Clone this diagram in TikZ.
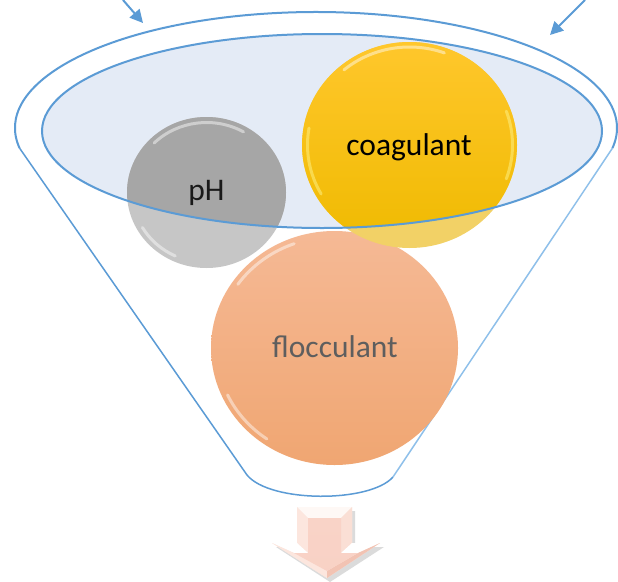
\documentclass[tikz,border=0pt]{standalone}
\usepackage{fontspec}
\setmainfont{Carlito}
\usetikzlibrary{arrows.meta}
\definecolor{rimblue}{HTML}{5B9BD5}
\definecolor{rimlight}{HTML}{8FC0EA}
\definecolor{bowl}{HTML}{E4EBF6}
\definecolor{phdark}{HTML}{A6A6A6}
\definecolor{phlight}{HTML}{C6C6C6}
\definecolor{coagtop}{HTML}{FFC72C}
\definecolor{coagbot}{HTML}{EFBA00}
\definecolor{coaglight}{HTML}{F2D166}
\definecolor{floctop}{HTML}{F5B995}
\definecolor{flocbot}{HTML}{F0A672}
\definecolor{floctext}{HTML}{5E5E5E}
\definecolor{arrface}{HTML}{F9D3C7}
\definecolor{arrlight}{HTML}{FCE6DE}
\definecolor{arrdark}{HTML}{F2C3B3}
\begin{document}
\begin{tikzpicture}[x=1pt,y=-1pt,
  rim/.style={draw=rimblue, line width=2pt},
  side/.style={draw=rimblue, line width=1.5pt},
  sidelight/.style={draw=rimlight, line width=1.5pt},
  inarrow/.style={draw=rimblue, line width=2pt, -{Triangle[length=13pt,width=13pt]}},
  lbl/.style={font=\fontsize{31.5}{38}\selectfont, inner sep=0pt},
  gloss/.style={draw=white, line width=3pt, opacity=0.45, line cap=round}
]
\useasboundingbox (0,0) rectangle (618,581);

% funnel outline
\coordinate (rimL) at (19.57,148.14);
\coordinate (rimR) at (612.43,148.14);
\coordinate (botL) at (247,475);
\coordinate (botR) at (393,477);
\fill[white] (rimL) arc[start angle=170, end angle=370, x radius=301, y radius=116]
  -- (botR) .. controls (370,503) and (270,503) .. (botL) -- cycle;
\draw[rim] (rimL) arc[start angle=170, end angle=370, x radius=301, y radius=116];
\draw[side] (rimL) -- (botL) .. controls (270,503) and (370,503) .. (botR);
\draw[sidelight] (rimR) -- (botR);

% bowl (inner ellipse)
\fill[bowl] (322,131) ellipse[x radius=280, y radius=97];

% flocculant
\shade[top color=floctop, bottom color=flocbot] (334.5,348) ellipse[x radius=123.5, y radius=117];
\draw[gloss] ([shift={(334.5,348)}]215:118 and 111) arc[start angle=215, end angle=250, x radius=118, y radius=111];
\draw[gloss] ([shift={(334.5,348)}]125:118 and 111) arc[start angle=125, end angle=155, x radius=118, y radius=111];

% pH and coagulant: light parts (in front of funnel body)
\fill[phlight] (206.5,192.5) ellipse[x radius=79.5, y radius=75.5];
\fill[coaglight] (409.5,145) ellipse[x radius=107.5, y radius=103];
% parts inside the bowl
\begin{scope}
  \clip (322,131) ellipse[x radius=280, y radius=97];
  \fill[phdark] (206.5,192.5) ellipse[x radius=79.5, y radius=75.5];
  \shade[top color=coagtop, bottom color=coagbot] (409.5,145) ellipse[x radius=107.5, y radius=103];
\end{scope}
\draw[gloss] ([shift={(206.5,192.5)}]225:74 and 70) arc[start angle=225, end angle=300, x radius=74, y radius=70];
\draw[gloss] ([shift={(206.5,192.5)}]115:74 and 70) arc[start angle=115, end angle=150, x radius=74, y radius=70];
\draw[gloss] ([shift={(409.5,145)}]230:102 and 98) arc[start angle=230, end angle=290, x radius=102, y radius=98];
\draw[gloss, draw=yellow!40] ([shift={(409.5,145)}]150:102 and 98) arc[start angle=150, end angle=190, x radius=102, y radius=98];
\draw[gloss, draw=yellow!40] ([shift={(409.5,145)}]-20:103 and 99) arc[start angle=-20, end angle=20, x radius=103, y radius=99];

% bowl outline on top
\draw[rim] (322,131) ellipse[x radius=280, y radius=97];

% labels
\node[lbl, text=black!90] (ph) at (206.5,193) {pH};
\node[lbl, text=black] (coag) at (409,147) {coagulant};
\node[lbl, text=floctext] (floc) at (335,347) {flocculant};

% incoming arrows
\coordinate (inLs) at (123,0);
\coordinate (inLe) at (143,23);
\coordinate (inRs) at (585,0);
\coordinate (inRe) at (550,35);
\draw[inarrow] (inLs) -- (inLe);
\draw[inarrow] (inRs) -- (inRe);

% outgoing block arrow
\fill[black, opacity=0.14] (300,511) -- (355,511) -- (355,547) -- (384,547) -- (330,582) -- (276,547) -- (300,547) -- cycle;
\fill[arrlight] (297,507) -- (352,507) -- (352,543) -- (380,543) -- (327,578) -- (272,543) -- (297,543) -- cycle;
\fill[white!70!arrlight] (297,507) -- (352,507) -- (341,518) -- (308,518) -- cycle;
\fill[arrlight] (297,507) -- (308,518) -- (308,553) -- (297,543) -- cycle;
\fill[arrlight!80!arrdark] (352,507) -- (352,543) -- (341,553) -- (341,518) -- cycle;
\fill[white] (272,543) -- (297,543) -- (308,553) -- (294,553) -- cycle;
\fill[white] (352,543) -- (380,543) -- (358,553) -- (341,553) -- cycle;
\fill[arrlight] (272,543) -- (294,553) -- (327,571) -- (327,578) -- cycle;
\fill[arrdark] (380,543) -- (327,578) -- (327,571) -- (358,553) -- cycle;
\shade[top color=arrface, bottom color=arrface!90!arrdark] (308,518) -- (341,518) -- (341,553) -- (358,553) -- (327,571) -- (294,553) -- (308,553) -- cycle;
\end{tikzpicture}
\end{document}
